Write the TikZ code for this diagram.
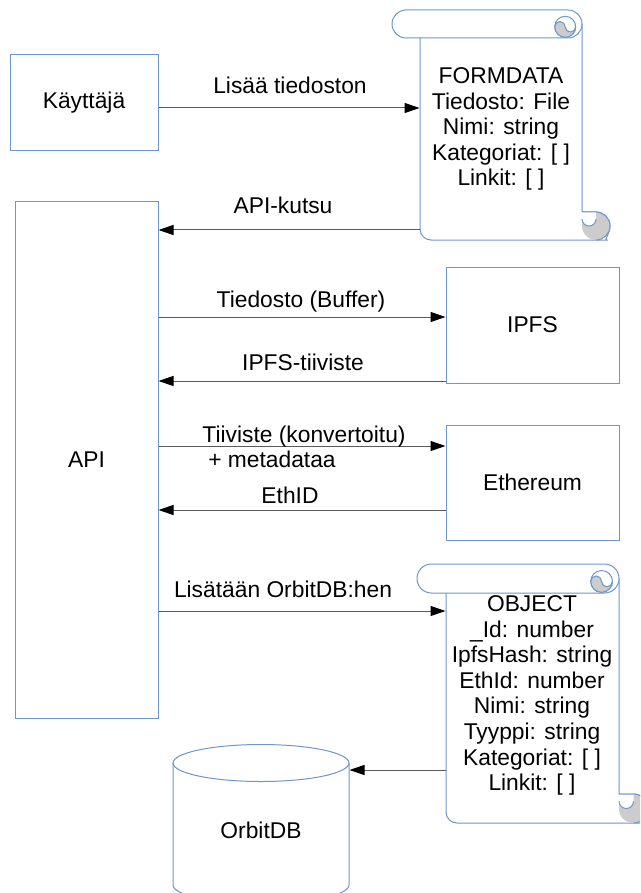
\documentclass[tikz,border=0pt]{standalone}
\usepackage{fontspec}
\setmainfont{Liberation Sans}
\usetikzlibrary{arrows.meta, positioning, calc}

\definecolor{boxblue}{RGB}{108,150,204}
\definecolor{curlgray}{RGB}{204,204,204}
\definecolor{linegray}{RGB}{90,90,90}

\newcommand{\lblfont}{\fontsize{22.8}{25.6}\selectfont}

% vertical scroll: #1 left, #2 top, #3 right, #4 bottom, #5 roll radius
\newcommand{\drawscroll}[5]{%
  % body
  \filldraw[draw=boxblue, fill=white] ({#1+2*#5},{#2+#5}) {[rounded corners=11pt] -- ({#1+2*#5},#4) -- ({#3+#5},#4)} arc[start angle=90, end angle=-90, radius=#5] -- (#3,{#4-2*#5}) -- (#3,{#2+#5});
  % bottom curl
  \fill[curlgray] ({#3+#5},{#4-#5}) circle[radius=#5];
  \fill[white] (#3,{#4-2*#5}) -- ({#3+#5},{#4-2*#5}) -- ({#3+#5},{#4-1.5*#5}) arc[start angle=0, end angle=180, radius=#5/2] -- cycle;
  \draw[boxblue] ({#3+#5},#4) arc[start angle=90, end angle=-90, radius=#5] -- (#3,{#4-2*#5});
  \draw[boxblue] ({#3+#5},{#4-1.5*#5}) arc[start angle=0, end angle=180, radius=#5/2];
  % roll on top
  \filldraw[draw=boxblue, fill=white, rounded corners=#5pt] (#1,#2) rectangle (#3,{#2+2*#5});
  \filldraw[draw=boxblue, fill=white] ({#3-1.2*#5},{#2+1.2*#5}) circle[radius=0.75*#5];
  \filldraw[draw=boxblue, fill=curlgray] ({#3-1.95*#5},{#2+1.2*#5}) arc[start angle=180, end angle=0, radius=0.75*#5] arc[start angle=0, end angle=180, radius=0.375*#5] arc[start angle=0, end angle=-180, radius=0.375*#5];
}

\begin{document}
\begin{tikzpicture}[x=1pt, y=-1pt, line width=1pt,
    every node/.style={font=\lblfont},
    box/.style={draw=boxblue, line width=1pt, inner sep=0pt},
    lbl/.style={anchor=base, inner sep=0pt},
    flow/.style={draw=linegray, line width=1pt, -{Triangle[length=15pt, width=10pt, color=black]}}]
  \clip (0,0) rectangle (640,893);

  % Kayttaja
  \node[box, minimum width=148pt, minimum height=96pt] (kayttaja) at (84,103) {Käyttäjä};

  % FORMDATA scroll
  \drawscroll{392}{10}{582}{240}{14}
  \node[inner sep=0pt, minimum width=162pt, minimum height=202pt] (formdata) at (501,139) {};
  \node[anchor=north, align=center, inner sep=0pt] (formdatatxt) at (501,67) {FORMDATA\\Tiedosto: File\\Nimi: string\\Kategoriat: [ ]\\Linkit: [ ]};

  % API and services
  \node[box, minimum width=143pt, minimum height=516pt] (api) at (86.5,460) {API};
  \node[box, minimum width=173pt, minimum height=116pt] (ipfs) at (532.5,325) {IPFS};
  \node[box, minimum width=173pt, minimum height=115pt] (eth) at (532.5,482.5) {Ethereum};

  % OBJECT scroll
  \drawscroll{417}{564}{619}{823}{14.5}
  \node[inner sep=0pt, minimum width=173pt, minimum height=230pt] (object) at (532.5,708) {};
  \node[anchor=north, align=center, inner sep=0pt] (objecttxt) at (532,595) {OBJECT\\\_Id: number\\IpfsHash: string\\EthId: number\\Nimi: string\\Tyyppi: string\\Kategoriat: [ ]\\Linkit: [ ]};

  % OrbitDB
  \draw[boxblue, fill=white] (173,763) -- (173,885) arc[start angle=180, end angle=0, x radius=88, y radius=18.5] -- (349,763);
  \draw[boxblue] (261,763) ellipse[x radius=88, y radius=18.5];
  \node[inner sep=0pt, minimum width=176pt, minimum height=120pt] (orbitdb) at (261,830) {OrbitDB};

  % arrows
  \draw[flow] (kayttaja.east |- 0,108) -- (formdata.west |- 0,108);
  \draw[flow] (formdata.west |- 0,230) -- (api.east |- 0,230);
  \draw[flow] (api.east |- 0,317) -- (ipfs.west |- 0,317);
  \draw[flow] (ipfs.west |- 0,381) -- (api.east |- 0,381);
  \draw[flow] (api.east |- 0,446) -- (eth.west |- 0,446);
  \draw[flow] (eth.west |- 0,510) -- (api.east |- 0,510);
  \draw[flow] (api.east |- 0,611) -- (object.west |- 0,611);
  \draw[flow] (object.west |- 0,770) -- (orbitdb.east |- 0,770);

  % labels
  \node[lbl] (l-lisaa) at (290,94) {Lisää tiedoston};
  \node[lbl] (l-kutsu) at (283,214) {API-kutsu};
  \node[lbl] (l-buffer) at (301,307) {Tiedosto (Buffer)};
  \node[lbl] (l-tiiviste) at (303,370) {IPFS-tiiviste};
  \node[lbl] (l-konv) at (304,442) {Tiiviste (konvertoitu)};
  \node[lbl] (l-meta) at (272,467) {+ metadataa};
  \node[lbl] (l-ethid) at (290,503) {EthID};
  \node[lbl] (l-orbit) at (283,597) {Lisätään OrbitDB:hen};
\end{tikzpicture}
\end{document}
